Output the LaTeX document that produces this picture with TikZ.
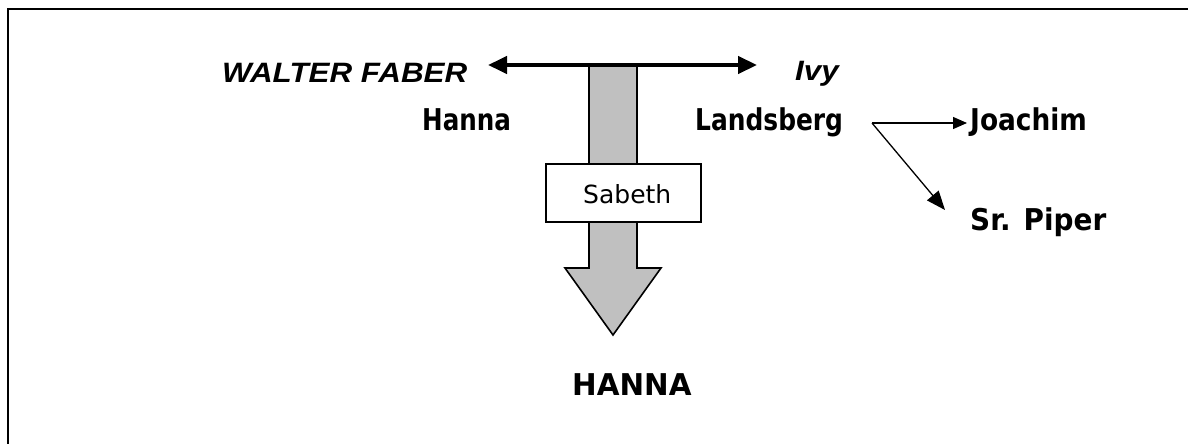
\documentclass[tikz,border=0pt]{standalone}
\usepackage{fontspec}
\usetikzlibrary{arrows.meta}
\newfontfamily\namefont{Liberation Sans}
\newfontfamily\handfont{DejaVu Sans}
\newcommand\squeeze[2]{\scalebox{#1}[1]{#2}}
\tikzset{
  frame/.style={line width=2.5pt, line cap=rect},
  bigname/.style={inner sep=0pt, anchor=base west, font=\namefont\bfseries\itshape\fontsize{28}{32}\selectfont},
  hand/.style={inner sep=0pt, anchor=base west, font=\handfont\bfseries\fontsize{30}{34}\selectfont},
  boxtext/.style={inner sep=0pt, anchor=base west, font=\handfont\fontsize{25}{28}\selectfont},
  boldlink/.style={line width=4.5pt, {Triangle[length=19pt,width=17pt]}-{Triangle[length=19pt,width=17pt]}},
  thinlink/.style={line width=1.3pt, -{Triangle[length=14pt,width=12pt]}},
  slantlink/.style={line width=1.3pt, -{Triangle[length=19pt,width=15pt]}},
  descent/.style={fill={rgb,255:red,192;green,192;blue,192}, draw=black, line width=1.6pt, line join=miter},
  childbox/.style={draw=black, fill=white, line width=1.6pt, inner sep=0pt, anchor=north west}
}
\begin{document}
\begin{tikzpicture}[x=1pt,y=-1pt]
\useasboundingbox (0,0) rectangle (1188,444);

% page frame, open to the right and bottom
\draw[frame] (8,444) -- (8,9) -- (1188,9);

% the child line: a broad grey arrow hanging from the couple
\draw[descent] (589,65) -- (637,65) -- (637,268) -- (661,268) -- (613,335)
  -- (565,268) -- (589,268) -- cycle;

% couple
\node[bigname] (walter) at (222,82) {\squeeze{1.12}{WALTER FABER}};
\node[bigname] (ivy) at (795,81) {\squeeze{1.12}{Ivy}};
\coordinate (wl) at (488,65);
\coordinate (wr) at (757,65);
\draw[boldlink] (wl) -- (wr);

% partners below
\node[hand] (hanna) at (422,130) {\squeeze{0.82}{Hanna}};
\node[hand] (lands) at (695,130) {\squeeze{0.83}{Landsberg}};
\node[hand] (joachim) at (970,130) {\squeeze{0.88}{Joachim}};
\node[hand] (piper) at (970,230) {\squeeze{0.93}{Sr. Piper}};

\coordinate (fork) at (872,123);
\coordinate (joachimtip) at (967,123);
\coordinate (pipertip) at (945,210);
\draw[thinlink] (fork) -- (joachimtip);
\draw[slantlink] (fork) -- (pipertip);

% child box
\node[childbox, minimum width=155pt, minimum height=58pt] (sabethbox) at (545,163) {};
\node[boxtext] (sabeth) at (583,203) {Sabeth};

% result
\node[hand] (hannacap) at (572,395) {\squeeze{0.98}{HANNA}};
\end{tikzpicture}
\end{document}
